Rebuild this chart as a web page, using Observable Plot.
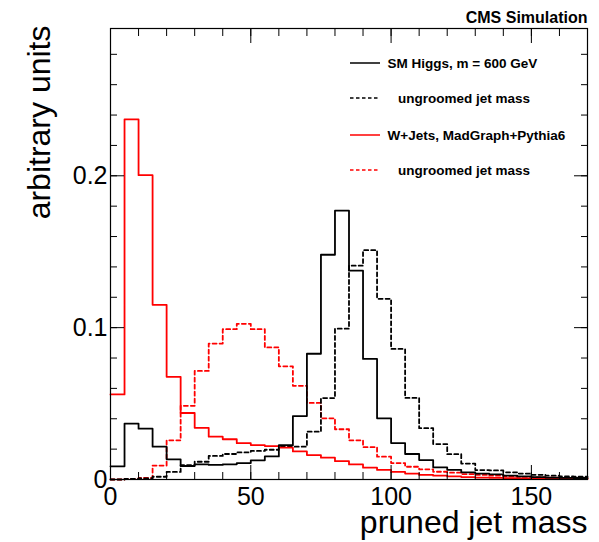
<!DOCTYPE html>
<html>
<head>
<meta charset="utf-8">
<script src="https://cdn.jsdelivr.net/npm/d3@7"></script>
<script src="https://cdn.jsdelivr.net/npm/@observablehq/plot@0.6"></script>
<style>
  html, body { margin: 0; padding: 0; background: #ffffff; }
  #wrap { position: relative; width: 599px; height: 542px; font-family: "Liberation Sans", Arial, Helvetica, sans-serif; }
  #legend { position: absolute; left: 0; top: 0; pointer-events: none; }
</style>
</head>
<body>
<div id="wrap"></div>
<script>
// ---- data: bin lower edges (GeV) and bin contents (arbitrary units) ----
const binStarts = [0, 5, 10, 15, 20, 25, 30, 35, 40, 45, 50, 55, 60, 65, 70, 75, 80, 85,
                   90, 95, 100, 105, 110, 115, 120, 125, 130, 135, 140, 145, 150, 155, 160, 165];
const xMax = 170;

const higgsPruned = [0.0087, 0.0368, 0.0335, 0.0216, 0.0133, 0.0089, 0.0100, 0.0096, 0.0100, 0.0108,
                     0.0126, 0.0152, 0.0226, 0.0418, 0.0828, 0.1480, 0.1770, 0.1375, 0.0794, 0.0403,
                     0.0240, 0.0168, 0.0128, 0.0080, 0.0064, 0.0047, 0.0039, 0.0034, 0.0025, 0.0020,
                     0.0016, 0.0013, 0.0011, 0.0010];
const higgsUngroomed = [0.0000, 0.0004, 0.0008, 0.0018, 0.0050, 0.0095, 0.0117, 0.0155, 0.0168, 0.0178,
                        0.0188, 0.0196, 0.0215, 0.0216, 0.0315, 0.0536, 0.0993, 0.1408, 0.1510, 0.1190,
                        0.0860, 0.0537, 0.0338, 0.0233, 0.0167, 0.0105, 0.0062, 0.0060, 0.0047, 0.0039,
                        0.0031, 0.0025, 0.0020, 0.0018];
const wjetsPruned = [0.0560, 0.2372, 0.2004, 0.1150, 0.0676, 0.0438, 0.0340, 0.0282, 0.0265, 0.0239,
                     0.0227, 0.0220, 0.0210, 0.0185, 0.0161, 0.0144, 0.0121, 0.0099, 0.0078, 0.0063,
                     0.0050, 0.0039, 0.0030, 0.0025, 0.0020, 0.0016, 0.0013, 0.0011, 0.0009, 0.0008,
                     0.0006, 0.0005, 0.0004, 0.0004];
const wjetsUngroomed = [0.0000, 0.0004, 0.0010, 0.0092, 0.0258, 0.0485, 0.0715, 0.0895, 0.0990, 0.1025,
                        0.0990, 0.0870, 0.0745, 0.0617, 0.0504, 0.0403, 0.0331, 0.0258, 0.0213, 0.0150,
                        0.0108, 0.0084, 0.0067, 0.0051, 0.0045, 0.0035, 0.0030, 0.0025, 0.0021, 0.0017,
                        0.0014, 0.0012, 0.0010, 0.0008];

const seriesNames = ["SM Higgs, m = 600 GeV", "ungroomed jet mass", "W+Jets, MadGraph+Pythia6", "ungroomed jet mass"];
const seriesColors = ["#000000", "#000000", "#ff0000", "#ff0000"];
const seriesDashed = [false, true, false, true];
const seriesValues = [higgsPruned, higgsUngroomed, wjetsPruned, wjetsUngroomed];

const xMajorTicks = [0, 50, 100, 150];
const xMinorTicks = [0, 10, 20, 30, 40, 50, 60, 70, 80, 90, 100, 110, 120, 130, 140, 150, 160, 170];
const yMajorTicks = [0, 0.1, 0.2];
const yMinorTicks = [0, 0.02, 0.04, 0.06, 0.08, 0.1, 0.12, 0.14, 0.16, 0.18, 0.2, 0.22, 0.24, 0.26, 0.28];
const yMax = 0.297;

const xTitle = "pruned jet mass";
const yTitle = "arbitrary units";
const topTitle = "CMS Simulation";

// ---- build step outlines from bins ----
function stepPoints(vals) {
  const pts = binStarts.map((x, i) => ({x, y: vals[i]}));
  pts.push({x: xMax, y: vals[vals.length - 1]});
  return pts;
}

const font = "'Liberation Sans', Arial, Helvetica, sans-serif";
const lineMarks = seriesValues.map((vals, i) =>
  Plot.line(stepPoints(vals), {
    x: "x", y: "y", curve: "step-after",
    stroke: seriesColors[i], strokeWidth: 1.8,
    strokeDasharray: seriesDashed[i] ? "4,3" : null
  })
);
// draw the solid ones on top of the dashed
const ordered = [lineMarks[3], lineMarks[1], lineMarks[2], lineMarks[0]];

const blank = () => "";
const chart = Plot.plot({
  width: 599,
  height: 542,
  marginTop: 28,
  marginRight: 12,
  marginBottom: 63,
  marginLeft: 110,
  style: {fontFamily: font, color: "#000", background: "#fff", overflow: "visible"},
  x: {domain: [0, xMax]},
  y: {domain: [0, yMax]},
  marks: [
    ...ordered,
    Plot.frame({stroke: "#000", strokeWidth: 1.2}),
    // inward ticks: bottom & top
    Plot.axisX({ticks: xMinorTicks, anchor: "bottom", tickSize: -7, tickFormat: blank, label: null}),
    Plot.axisX({ticks: xMajorTicks, anchor: "bottom", tickSize: -14, tickFormat: blank, label: null}),
    Plot.axisX({ticks: xMinorTicks, anchor: "top", tickSize: -7, tickFormat: blank, label: null}),
    Plot.axisX({ticks: xMajorTicks, anchor: "top", tickSize: -14, tickFormat: blank, label: null}),
    // inward ticks: left & right
    Plot.axisY({ticks: yMinorTicks, anchor: "left", tickSize: -7, tickFormat: blank, label: null}),
    Plot.axisY({ticks: yMajorTicks, anchor: "left", tickSize: -14, tickFormat: blank, label: null}),
    Plot.axisY({ticks: yMinorTicks, anchor: "right", tickSize: -7, tickFormat: blank, label: null}),
    Plot.axisY({ticks: yMajorTicks, anchor: "right", tickSize: -14, tickFormat: blank, label: null}),
    // tick labels
    Plot.axisX({ticks: xMajorTicks, anchor: "bottom", tickSize: 0, tickPadding: 8, fontSize: 25,
                tickFormat: d => String(d), label: null}),
    Plot.axisY({ticks: yMajorTicks, anchor: "left", tickSize: 0, tickPadding: 3, fontSize: 25,
                tickFormat: d => d === 0 ? "0" : d.toFixed(1), label: null}),
    // titles
    Plot.text([xTitle], {frameAnchor: "bottom-right", textAnchor: "end", lineAnchor: "bottom",
                         dy: 53, fontSize: 32}),
    Plot.text([yTitle], {frameAnchor: "top-left", textAnchor: "end", lineAnchor: "bottom",
                         rotate: -90, dx: -61, dy: -3, fontSize: 32}),
    Plot.text([topTitle], {frameAnchor: "top-right", textAnchor: "end", lineAnchor: "bottom",
                           dy: -6, fontSize: 16, fontWeight: "bold"})
  ]
});

const wrap = document.getElementById("wrap");
wrap.appendChild(chart);

// ---- legend overlay (inside the frame, upper right) ----
const legend = d3.select(wrap).append("svg")
  .attr("id", "legend").attr("width", 599).attr("height", 542);
const rowBaselines = [68, 103, 140, 175];
const rowIndent = [0, 10.6, 0, 10.6];
seriesNames.forEach((name, i) => {
  const g = legend.append("g");
  const yc = rowBaselines[i] - 5;
  g.append("line")
    .attr("x1", 350).attr("x2", 380).attr("y1", yc).attr("y2", yc)
    .attr("stroke", seriesColors[i]).attr("stroke-width", 1.5)
    .attr("stroke-dasharray", seriesDashed[i] ? "3.5,2.5" : null);
  g.append("text")
    .attr("x", 387.5 + rowIndent[i]).attr("y", rowBaselines[i])
    .attr("font-family", font).attr("font-size", 13.5).attr("font-weight", "bold")
    .attr("fill", "#000")
    .text(name);
});
</script>
</body>
</html>
